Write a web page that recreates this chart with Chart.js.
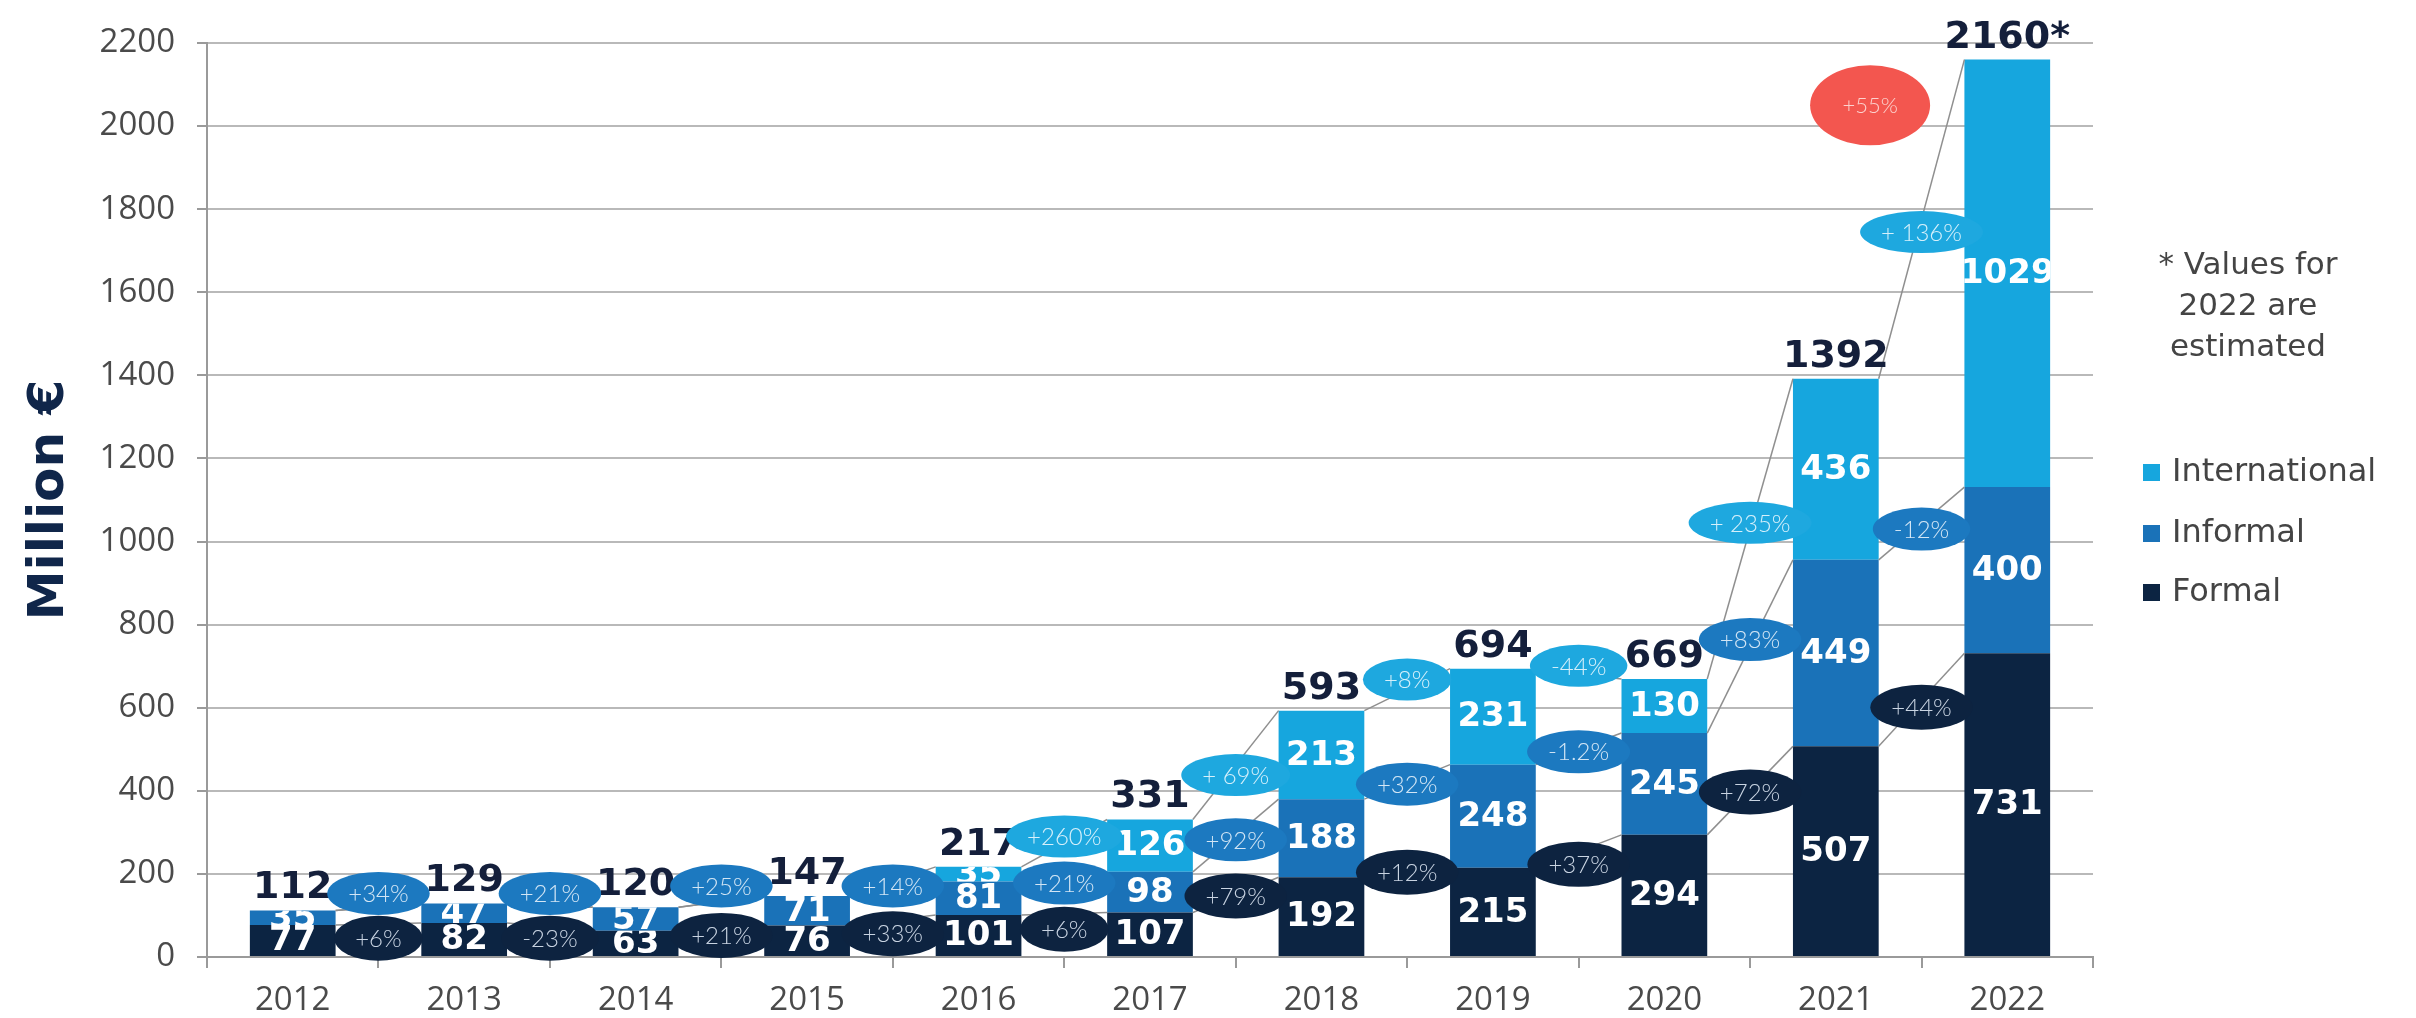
<!DOCTYPE html>
<html><head><meta charset="utf-8">
<script src="https://cdn.jsdelivr.net/npm/chart.js@4.4.0/dist/chart.umd.min.js"></script>
<style>html,body{margin:0;padding:0;background:#fff;}#wrap{width:2416px;height:1018px;}</style>
</head><body><div id="wrap"><canvas id="c" width="2416" height="1018"></canvas></div>
<script>
// ---------- data ----------
const years = ['2012','2013','2014','2015','2016','2017','2018','2019','2020','2021','2022'];
const formal = [77, 82, 63, 76, 101, 107, 192, 215, 294, 507, 731];
const informal = [35, 47, 57, 71, 81, 98, 188, 248, 245, 449, 400];
const international = [0, 0, 0, 0, 35, 126, 213, 231, 130, 436, 1029];
const estimatedYear = '2022';
const yTickStep = 200;
const yMax = 2200;

// year-on-year change labels (between year i and i+1) and the value level where each sits
const formalChange = ['+6%','-23%','+21%','+33%','+6%','+79%','+12%','+37%','+72%','+44%'];
const formalChangeAt = [45, 45, 52, 56, 67, 147, 204, 223, 397, 601];
const informalChange = ['+34%','+21%','+25%','+14%','+21%','+92%','+32%','-1.2%','+83%','-12%'];
const informalChangeAt = [153, 153, 171, 171, 178, 282, 416, 494, 764, 1030];
const internationalChange = [null, null, null, null, '+260%','+ 69%','+8%','-44%','+ 235%','+ 136%'];
const internationalChangeAt = [null, null, null, null, 290, 438, 668, 701, 1045, 1745];
const totalChange = '+55%';
const totalChangeAt = 2050;

// ---------- styles ----------
const C = {
  formal: '#0c2442', informal: '#1a72b8', intl: '#16a6de',
  eFormal: '#0d2340', eInformal: '#1c79c0', eIntl: '#1ea8df', eTotal: '#f3564f',
  tFormal: '#c9d4e2', tInformal: '#d3e6f5', tIntl: '#d6f0fb', tTotal: '#fcd2ce',
  grid: '#b9b9b9', axis: '#9a9a9a', tick: '#4a4a4a', total: '#141f3b', title: '#10264a', link: '#8f8f8f'
};

const overlay = {
  id: 'overlay',
  afterDatasetsDraw(chart) {
    const {ctx, scales: {x, y}} = chart;
    const metas = [0,1,2].map(i => chart.getDatasetMeta(i));
    const w = metas[0].data[0].width;

    // connecting lines between segment tops
    const levels = [
      formal,
      formal.map((v, i) => v + informal[i]),
      formal.map((v, i) => v + informal[i] + international[i])
    ];
    ctx.save();
    ctx.strokeStyle = C.link; ctx.lineWidth = 1.5;
    levels.forEach(lv => {
      for (let i = 0; i < years.length - 1; i++) {
        const x1 = x.getPixelForValue(i) + w / 2, x2 = x.getPixelForValue(i + 1) - w / 2;
        ctx.beginPath();
        ctx.moveTo(x1, y.getPixelForValue(lv[i]));
        ctx.lineTo(x2, y.getPixelForValue(lv[i + 1]));
        ctx.stroke();
      }
    });
    ctx.restore();

    // segment value labels (clipped to their segment)
    chart.data.datasets.forEach((ds, di) => {
      metas[di].data.forEach((bar, i) => {
        const v = ds.data[i];
        if (!v) return;
        const p = bar.getProps(['x', 'y', 'base', 'width'], true);
        ctx.save();
        ctx.beginPath();
        ctx.rect(p.x - p.width / 2, p.y, p.width, p.base - p.y);
        ctx.clip();
        ctx.fillStyle = '#ffffff';
        ctx.font = 'bold 34px "DejaVu Sans"';
        ctx.textAlign = 'center';
        ctx.textBaseline = 'middle';
        ctx.fillText(String(v), p.x, (p.y + p.base) / 2 + 1);
        ctx.restore();
      });
    });

    // totals above bars
    ctx.save();
    ctx.fillStyle = C.total;
    ctx.font = 'bold 38px "DejaVu Sans"';
    ctx.textAlign = 'center';
    ctx.textBaseline = 'alphabetic';
    years.forEach((yr, i) => {
      const t = levels[2][i];
      const label = String(t) + (yr === estimatedYear ? '*' : '');
      ctx.fillText(label, x.getPixelForValue(i), y.getPixelForValue(t) - 12);
    });
    ctx.restore();

    // change ellipses
    function pill(cx, cy, text, fill, tcol, h, minW, fs) {
      ctx.save();
      ctx.font = '300 ' + fs + 'px Lato';
      const tw = ctx.measureText(text).width;
      const ew = Math.max(minW, tw + 42);
      ctx.beginPath();
      ctx.ellipse(cx, cy, ew / 2, h / 2, 0, 0, Math.PI * 2);
      ctx.fillStyle = fill;
      ctx.fill();
      ctx.fillStyle = tcol;
      ctx.textAlign = 'center';
      ctx.textBaseline = 'middle';
      ctx.fillText(text, cx, cy + 1);
      ctx.restore();
    }
    for (let i = 0; i < years.length - 1; i++) {
      const bx = x.getPixelForValue(i + 0.5);
      if (internationalChange[i]) pill(bx, y.getPixelForValue(internationalChangeAt[i]), internationalChange[i], C.eIntl, C.tIntl, 42, 82, 24);
    }
    for (let i = 0; i < years.length - 1; i++) {
      const bx = x.getPixelForValue(i + 0.5);
      pill(bx, y.getPixelForValue(informalChangeAt[i]), informalChange[i], C.eInformal, C.tInformal, 43, 86, 24);
    }
    for (let i = 0; i < years.length - 1; i++) {
      const bx = x.getPixelForValue(i + 0.5);
      pill(bx, y.getPixelForValue(formalChangeAt[i]), formalChange[i], C.eFormal, C.tFormal, 45, 84, 24);
    }
    // overall change, placed above the 2021 bar toward 2022
    pill(x.getPixelForValue(years.length - 1.8), y.getPixelForValue(totalChangeAt), totalChange, C.eTotal, C.tTotal, 80, 120, 22);
  },
  afterDraw(chart) {
    const {ctx} = chart;
    ctx.save();
    // legend (top-down = reversed stack order)
    const items = chart.data.datasets.slice().reverse();
    ctx.font = '32px "DejaVu Sans"';
    ctx.textBaseline = 'middle';
    ctx.textAlign = 'left';
    const ys = [472, 533, 592];
    items.forEach((ds, k) => {
      ctx.fillStyle = ds.backgroundColor;
      ctx.fillRect(2143, ys[k] - 8, 17, 17);
      ctx.fillStyle = '#444444';
      ctx.fillText(ds.label, 2172, ys[k] + 1);
    });
    // note
    ctx.font = '31px "DejaVu Sans"';
    ctx.textAlign = 'center';
    ctx.fillStyle = '#444444';
    ['* Values for', '2022 are', 'estimated'].forEach((t, k) => ctx.fillText(t, 2248, 266 + k * 41));
    ctx.restore();
  }
};

new Chart(document.getElementById('c').getContext('2d'), {
  type: 'bar',
  data: {
    labels: years,
    datasets: [
      {label: 'Formal', data: formal, backgroundColor: C.formal, stack: 's'},
      {label: 'Informal', data: informal, backgroundColor: C.informal, stack: 's'},
      {label: 'International', data: international, backgroundColor: C.intl, stack: 's'}
    ]
  },
  options: {
    responsive: false,
    animation: false,
    devicePixelRatio: 1,
    layout: {padding: {left: 0, right: 323, top: 43, bottom: 0}},
    datasets: {bar: {categoryPercentage: 1, barPercentage: 0.5, borderWidth: 0}},
    plugins: {legend: {display: false}, tooltip: {enabled: false}},
    scales: {
      x: {
        stacked: true,
        grid: {offset: true, drawOnChartArea: false, drawTicks: true, tickLength: 11, color: C.axis, lineWidth: 2},
        border: {color: C.axis, width: 2},
        ticks: {font: {family: 'Open Sans', size: 33}, color: C.tick, padding: 13},
        afterFit(s) { s.height = 61; }
      },
      y: {
        stacked: true, min: 0, max: yMax,
        ticks: {stepSize: yTickStep, font: {family: 'Open Sans', size: 33}, color: C.tick, padding: 22, callback: v => String(v)},
        grid: {color: C.grid, lineWidth: 2, tickLength: 10, tickColor: C.axis},
        border: {color: C.axis, width: 2},
        title: {display: true, text: 'Million €', font: {family: 'DejaVu Sans', size: 50, weight: 'bold'}, color: C.title, padding: {top: 20, bottom: 0}},
        afterFit(s) { s.width = 207; }
      }
    }
  },
  plugins: [overlay]
});
</script>
</body></html>
